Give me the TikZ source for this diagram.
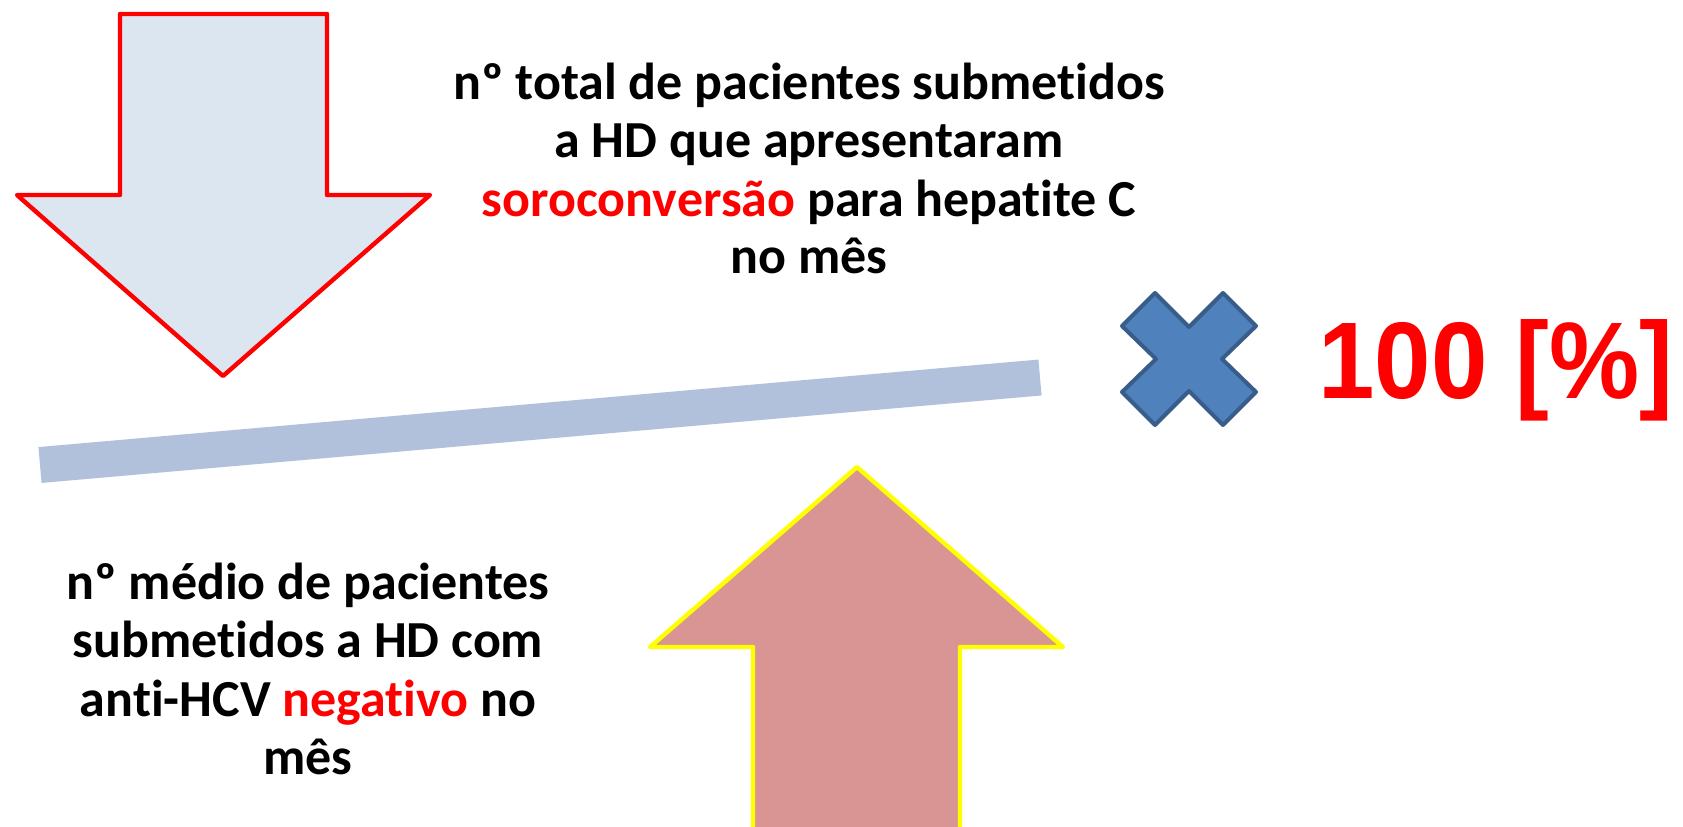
\documentclass[tikz,border=0pt]{standalone}
\usepackage{fontspec}
\setmainfont{Carlito}[Ligatures={TeX,NoCommon,NoContextual}]
\setsansfont{Liberation Sans}
\definecolor{downfill}{HTML}{DCE6F1}
\definecolor{upfill}{HTML}{D99594}
\definecolor{barblue}{HTML}{B1C1DB}
\definecolor{xfill}{HTML}{4F81BD}
\definecolor{xline}{HTML}{385D8A}
\definecolor{pptred}{HTML}{FF0000}
\definecolor{pptyellow}{HTML}{FFFF00}
\begin{document}
\begin{tikzpicture}[x=0.5pt,y=-0.5pt,
  txt/.style={anchor=base,inner sep=0,font=\fontsize{26}{30}\selectfont\bfseries},
  arrowshape/.style={line width=2.2pt,line join=round}]
\useasboundingbox (0,0) rectangle (1683,826);
\clip (0,0) rectangle (1683,826);
% down arrow
\draw[arrowshape,draw=pptred,fill=downfill]
  (120,14) -- (327,14) -- (327,195) -- (430,195) -- (223,376) -- (17,195) -- (120,195) -- cycle;
% fraction bar
\coordinate (barL) at (40,465);
\coordinate (barR) at (1040,377.5);
\draw[barblue,line width=18pt,line cap=butt] (barL) -- (barR);
% up arrow
\draw[arrowshape,draw=pptyellow,fill=upfill]
  (857,467) -- (1063,647) -- (960,647) -- (960,860) -- (753,860) -- (753,647) -- (650,647) -- cycle;
% multiplication sign
\draw[line width=2pt,line join=round,draw=xline,fill=xfill,shift={(1189,359)}]
  (-34,-66) -- (0,-32) -- (34,-66) -- (67,-33) -- (33,0) -- (67,33) -- (34,66) -- (0,32)
  -- (-34,66) -- (-67,33) -- (-33,0) -- (-67,-33) -- cycle;
% numerator text
\node[txt] (t1) at (809,99) {nº total de pacientes submetidos};
\node[txt] (t2) at (809,157) {a HD que apresentaram};
\node[txt] (t3) at (809,216) {\textcolor{pptred}{soroconversão} para hepatite C};
\node[txt] (t4) at (809,273) {no mês};
% denominator text
\node[txt] (b1) at (308,599) {nº médio de pacientes};
\node[txt] (b2) at (308,657) {submetidos a HD com};
\node[txt] (b3) at (308,716) {anti-HCV \textcolor{pptred}{negativo} no};
\node[txt] (b4) at (308,774) {mês};
% 100 [%]
\node[anchor=base west,inner sep=0,text=pptred,xscale=0.93,font=\sffamily\bfseries\fontsize{54.5}{60}\selectfont] (pct) at (1318,398) {100 [\%]};
\end{tikzpicture}
\end{document}
